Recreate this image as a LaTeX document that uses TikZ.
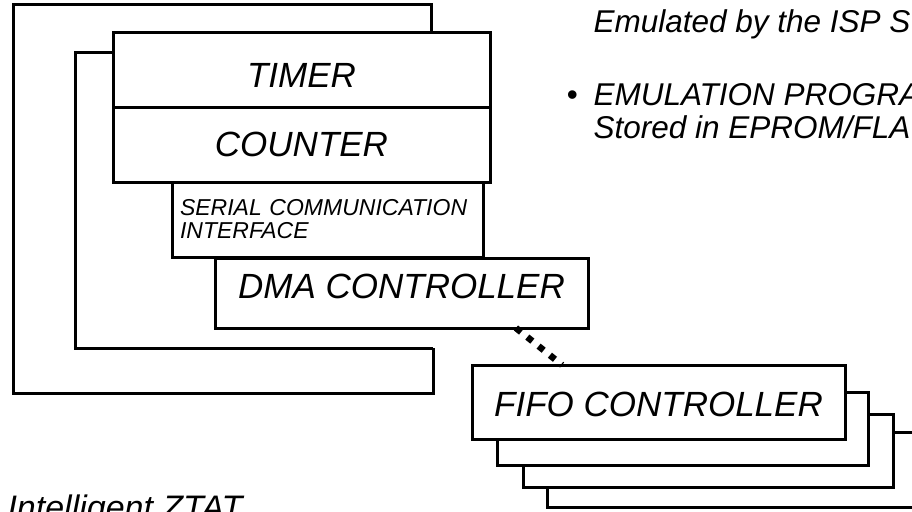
\documentclass[tikz,border=0pt]{standalone}
\usepackage{fontspec}
\setmainfont{Liberation Sans}
\newcommand\bigf{\fontsize{35}{35}\selectfont\itshape}
\newcommand\midf{\fontsize{23}{23}\selectfont\itshape}
\newcommand\sidef{\fontsize{31.5}{31.5}\selectfont\itshape}
\newcommand\botf{\fontsize{34}{34}\selectfont\itshape}
\begin{document}
\begin{tikzpicture}[x=1pt,y=-1pt,line width=3pt,
  plate/.style={draw,line join=miter},
  blk/.style={draw,fill=white,inner sep=0pt,outer sep=0pt,font=\bigf},
  dots/.style={line width=6.5pt,dash pattern=on 6.5pt off 8pt},
  side/.style={anchor=base west,inner sep=0pt,font=\sidef}]
\useasboundingbox (0,0) rectangle (912,511);
\clip (0,0) rectangle (912,511);
% back plates
\draw[plate] (431,33) -- (431,5) -- (13,5) -- (13,393) -- (433,393) -- (433,348);
\draw[plate] (113,53) -- (75,53) -- (75,348) -- (433,348);
% stacked blocks
\node[blk,minimum width=377,minimum height=74,text height=35pt] (timer) at (301.5,70) {TIMER};
\node[blk,minimum width=377,minimum height=75] (counter) at (301.5,144.5) {COUNTER};
\node[blk,minimum width=311,minimum height=75,font=\midf,align=left,text width=295] (sci) at (327.5,219.5) {SERIAL COMMUNICATION\\INTERFACE};
\node[blk,minimum width=373,minimum height=70,text depth=14pt] (dma) at (401.5,293) {DMA CONTROLLER};
% FIFO stack
\node[blk,minimum width=413,minimum height=75] (fifod) at (753.5,469.5) {};
\node[blk,minimum width=370,minimum height=73] (fifoc) at (708,450.5) {};
\node[blk,minimum width=371,minimum height=73] (fifob) at (682.5,428.5) {};
\node[blk,minimum width=373,minimum height=74,text height=30pt] (fifo) at (658.5,402) {FIFO CONTROLLER};
% dotted link
\draw[dots] (dma.-17) -- (fifo.159);
% side texts
\node[side] (t1) at (592,33) {Emulated by the ISP S};
\node[side] (bul) at (565,105) {•};
\node[side] (t2) at (592,105) {EMULATION PROGRA};
\node[side] (t3) at (592,138) {Stored in EPROM/FLA};
\node[side,font=\botf] (t4) at (6,519) {Intelligent ZTAT};
\end{tikzpicture}
\end{document}
